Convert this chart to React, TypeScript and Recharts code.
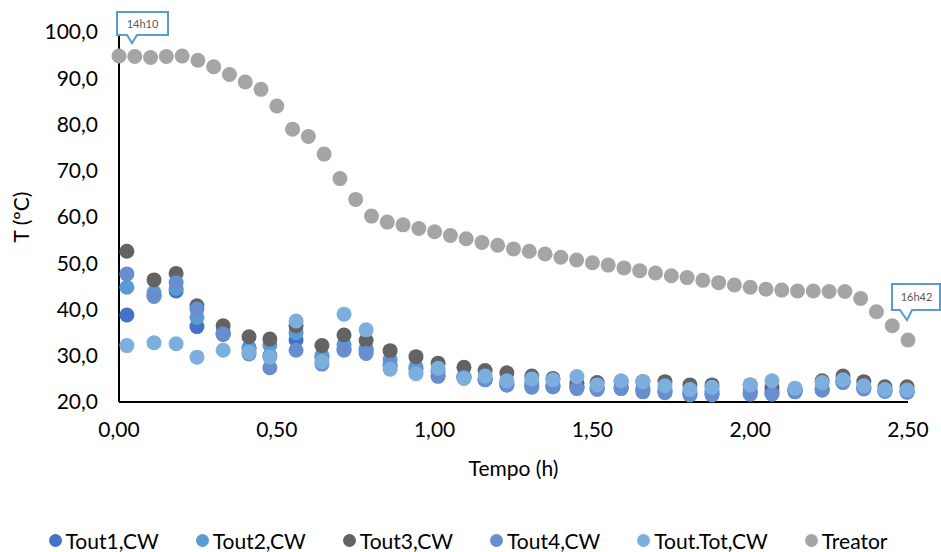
import React from 'react';
import { ScatterChart, Scatter, XAxis, YAxis, Legend } from 'recharts';

// ---- data ----
const toutTimes = [
  0.025, 0.111, 0.181, 0.247, 0.33, 0.412, 0.478, 0.561, 0.643, 0.713, 0.783, 0.859,
  0.941, 1.011, 1.093, 1.16, 1.229, 1.308, 1.375, 1.451, 1.515, 1.591, 1.66, 1.73,
  1.809, 1.879, 2.0, 2.069, 2.142, 2.228, 2.294, 2.36, 2.427, 2.497,
];
const tout1 = [
  38.8, 43.1, 44.0, 36.3, 34.6, 31.5, 30.0, 33.4, 29.7, 31.5, 31.2, 27.8,
  27.3, 25.6, 25.3, 24.8, 23.7, 23.5, 23.3, 23.1, 23.0, 23.0, 22.5, 22.3,
  21.8, 21.8, 22.0, 22.0, 22.3, 22.6, 24.4, 23.0, 22.4, 22.2,
];
const tout2 = [
  44.8, 43.7, 44.6, 38.3, 35.0, 31.8, 32.3, 35.0, 30.1, 32.5, 31.6, 29.2,
  27.6, 26.6, 25.5, 25.0, 24.2, 24.0, 23.8, 23.4, 23.2, 23.3, 23.0, 22.8,
  22.2, 22.4, 22.6, 22.5, 22.6, 23.0, 24.6, 23.2, 22.5, 22.4,
];
const tout3 = [
  52.6, 46.4, 47.8, 40.8, 36.5, 34.1, 33.6, 36.5, 32.2, 34.5, 33.3, 31.1,
  29.8, 28.4, 27.5, 26.8, 26.3, 25.6, 25.1, 24.0, 24.2, 24.4, 24.4, 24.4,
  23.7, 23.7, 23.7, 23.3, 22.8, 24.6, 25.6, 24.4, 23.3, 23.3,
];
const tout4 = [
  47.7, 42.8, 45.8, 40.1, 34.7, 30.4, 27.4, 31.2, 28.2, 31.2, 30.5, 28.0,
  26.5, 25.6, 25.3, 24.8, 23.7, 23.2, 23.3, 22.9, 22.7, 22.9, 22.2, 22.0,
  21.5, 21.5, 21.7, 21.7, 22.2, 22.6, 24.2, 22.8, 22.3, 22.1,
];
const toutTot = [
  32.2, 32.8, 32.6, 29.7, 31.2, 30.7, 29.7, 37.5, 28.7, 39.0, 35.6, 27.1,
  26.1, 27.3, 25.1, 25.6, 24.6, 25.0, 24.8, 25.5, 23.7, 24.6, 24.4, 23.5,
  22.7, 23.2, 23.7, 24.6, 23.0, 24.2, 24.8, 23.5, 22.7, 22.6,
];
const treatorTimes = [
  0.0, 0.05, 0.1, 0.15, 0.2, 0.25, 0.3, 0.35, 0.4, 0.45, 0.5, 0.55, 0.6, 0.65, 0.7,
  0.75, 0.8, 0.85, 0.9, 0.95, 1.0, 1.05, 1.1, 1.15, 1.2, 1.25, 1.3, 1.35, 1.4, 1.45,
  1.5, 1.55, 1.6, 1.65, 1.7, 1.75, 1.8, 1.85, 1.9, 1.95, 2.0, 2.05, 2.1, 2.15, 2.2,
  2.25, 2.3, 2.35, 2.4, 2.45, 2.5,
];
const treator = [
  94.8, 94.7, 94.5, 94.7, 94.8, 93.9, 92.5, 90.8, 89.2, 87.6, 84.0, 79.0, 77.4, 73.6, 68.3,
  63.8, 60.2, 58.9, 58.3, 57.5, 56.8, 56.0, 55.3, 54.5, 53.9, 53.1, 52.6, 52.0, 51.3, 50.7,
  50.1, 49.6, 49.0, 48.4, 47.9, 47.3, 46.9, 46.3, 45.8, 45.3, 44.8, 44.4, 44.2, 44.0, 44.0,
  43.9, 43.9, 42.4, 39.5, 36.5, 33.4,
];
const startLabel = '14h10';
const endLabel = '16h42';

const xTicks = [0, 0.5, 1, 1.5, 2, 2.5];
const yTicks = [20, 30, 40, 50, 60, 70, 80, 90, 100];

const seriesNames = ['Tout1,CW', 'Tout2,CW', 'Tout3,CW', 'Tout4,CW', 'Tout.Tot,CW', 'Treator'];
const colors = ['#4472C4', '#5B9BD5', '#636363', '#698ED0', '#7CAFDD', '#A5A5A5'];

// ---- helpers ----
const FONT = 'Lato, "Noto Sans", sans-serif';
const fmt2 = (v: number) => v.toFixed(2).replace('.', ',');
const fmt1 = (v: number) => v.toFixed(1).replace('.', ',');
const build = (xs: number[], ys: number[]) => xs.map((x, i) => ({ x, y: ys[i] }));

const toutSeries = [tout1, tout2, tout3, tout4, toutTot].map((ys) => build(toutTimes, ys));
const treatorData = treatorTimes.map((x, i) => ({
  x,
  y: treator[i],
  label: i === 0 ? startLabel : i === treatorTimes.length - 1 ? endLabel : '',
}));

const R = 7.5;
const dot = (color: string) => (props: any) => (
  <circle cx={props.cx} cy={props.cy} r={R} fill={color} />
);

const treatorShape = (props: any) => {
  const { cx, cy, payload } = props;
  const circle = <circle cx={cx} cy={cy} r={R} fill={colors[5]} />;
  if (!payload || !payload.label) return circle;
  const stroke = '#5B9BD5';
  if (payload.label === startLabel) {
    const L = cx - 2, T = cy - 44, Rt = cx + 49, B = cy - 21;
    const d = `M${L},${T} H${Rt} V${B} H${cx + 18} L${cx + 13},${cy - 13} L${cx + 8},${B} H${L} Z`;
    return (
      <g>
        {circle}
        <path d={d} fill="#fff" stroke={stroke} strokeWidth={2} />
        <text x={cx + 23.5} y={cy - 28.5} textAnchor="middle" fontFamily={FONT} fontSize={11} fill="#595959">
          {payload.label}
        </text>
      </g>
    );
  }
  const L = cx - 16, T = cy - 56, Rt = cx + 32, B = cy - 30;
  const d = `M${L},${T} H${Rt} V${B} H${cx + 4} L${cx - 1},${cy - 20} L${cx - 8},${B} H${L} Z`;
  return (
    <g>
      {circle}
      <path d={d} fill="#fff" stroke={stroke} strokeWidth={2} />
      <text x={cx + 8.5} y={cy - 39} textAnchor="middle" fontFamily={FONT} fontSize={11} fill="#595959">
        {payload.label}
      </text>
    </g>
  );
};

const renderLegend = () => (
  <div
    style={{
      display: 'flex',
      justifyContent: 'center',
      alignItems: 'center',
      height: 24,
      fontFamily: FONT,
      fontSize: 21,
      color: '#000',
      paddingLeft: 28,
    }}
  >
    {seriesNames.map((n, i) => (
      <div key={n} style={{ display: 'flex', alignItems: 'center', marginRight: i < 5 ? 37 : 0 }}>
        <span
          style={{
            display: 'inline-block',
            width: 13,
            height: 13,
            borderRadius: '50%',
            background: colors[i],
            marginRight: 4,
          }}
        />
        <span>{n}</span>
      </div>
    ))}
  </div>
);

const YTitle = (props: any) => {
  const vb = props.viewBox || { x: 0, y: 0, width: 0, height: 0 };
  const cx = 20;
  const cy = vb.y + vb.height / 2;
  return (
    <text
      x={cx}
      y={cy}
      transform={`rotate(-90, ${cx}, ${cy})`}
      textAnchor="middle"
      dominantBaseline="central"
      fontFamily={FONT}
      fontSize={21}
      fill="#000"
    >
      T (ºC)
    </text>
  );
};

const XTitle = (props: any) => {
  const vb = props.viewBox || { x: 0, y: 0, width: 0, height: 0 };
  return (
    <text
      x={vb.x + vb.width / 2}
      y={vb.y + 74}
      textAnchor="middle"
      fontFamily={FONT}
      fontSize={21}
      fill="#000"
    >
      Tempo (h)
    </text>
  );
};

export default function App() {
  return (
    <div style={{ position: 'absolute', left: 0, top: 0, width: 941, height: 552, background: '#fff' }}>
      <ScatterChart width={941} height={552} margin={{ top: 32, right: 33, left: 0, bottom: 0 }}>
        <XAxis
          type="number"
          dataKey="x"
          domain={[0, 2.5]}
          ticks={xTicks}
          tickFormatter={fmt2}
          height={126}
          tickSize={0}
          tickMargin={20}
          axisLine={{ stroke: '#000', strokeWidth: 2 }}
          tick={{ fontFamily: FONT, fontSize: 21, fill: '#000' }}
          label={<XTitle />}
        />
        <YAxis
          type="number"
          dataKey="y"
          domain={[20, 100]}
          ticks={yTicks}
          tickFormatter={fmt1}
          width={119}
          tickSize={0}
          tickMargin={21}
          axisLine={{ stroke: '#000', strokeWidth: 2 }}
          tick={{ fontFamily: FONT, fontSize: 21, fill: '#000' }}
          label={<YTitle />}
        />
        <Legend verticalAlign="bottom" content={renderLegend} />
        {toutSeries.map((d, i) => (
          <Scatter
            key={seriesNames[i]}
            name={seriesNames[i]}
            data={d}
            fill={colors[i]}
            shape={dot(colors[i])}
            isAnimationActive={false}
          />
        ))}
        <Scatter
          name={seriesNames[5]}
          data={treatorData}
          fill={colors[5]}
          shape={treatorShape}
          isAnimationActive={false}
        />
      </ScatterChart>
    </div>
  );
}
